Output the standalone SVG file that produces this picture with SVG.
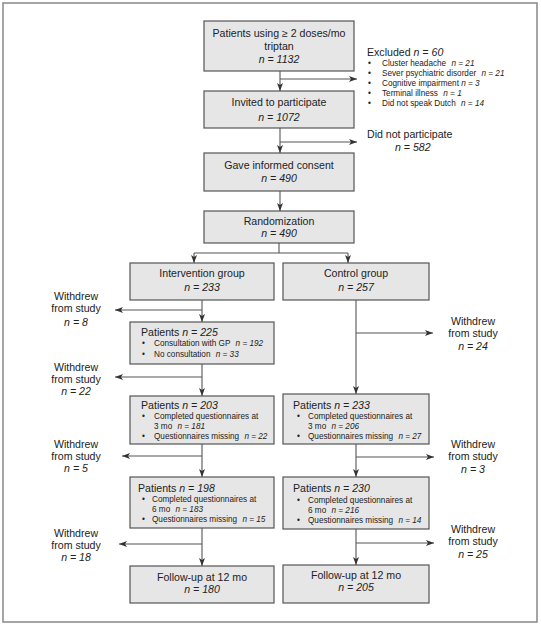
<svg xmlns="http://www.w3.org/2000/svg" width="541" height="626" viewBox="0 0 541 626">
<style>
text{font-family:"Liberation Sans",Arial,sans-serif;fill:#222;}
.t{font-size:10.6px;}
.c{text-anchor:middle;}
.s{font-size:8.2px;}
.i{font-style:italic;}
.box{fill:#e6e6e6;stroke:#555;stroke-width:1.2;}
.ln{fill:none;stroke:#555;stroke-width:1.1;}
</style>
<defs>
<marker id="ah" viewBox="0 0 8 6" refX="8" refY="3" markerWidth="8" markerHeight="6" markerUnits="userSpaceOnUse" orient="auto">
<path d="M0,0 L8,3 L0,6 L2,3 z" fill="#333"/>
</marker>
</defs>
<rect x="3" y="3" width="534" height="619" fill="#fff" stroke="#888" stroke-width="1.5"/>

<g id="connectors">
<path class="ln" d="M280,71 V91" marker-end="url(#ah)"/>
<path class="ln" d="M280,79 H357" marker-end="url(#ah)"/>
<path class="ln" d="M280,128 V153" marker-end="url(#ah)"/>
<path class="ln" d="M280,142 H357" marker-end="url(#ah)"/>
<path class="ln" d="M280,191 V211" marker-end="url(#ah)"/>
<path class="ln" d="M279,243 V253 M194,253 H348"/>
<path class="ln" d="M194,253 V263" marker-end="url(#ah)"/>
<path class="ln" d="M348,253 V263" marker-end="url(#ah)"/>
<path class="ln" d="M202,300 V322" marker-end="url(#ah)"/>
<path class="ln" d="M202,310 H115" marker-end="url(#ah)"/>
<path class="ln" d="M202,364 V396" marker-end="url(#ah)"/>
<path class="ln" d="M202,377 H115" marker-end="url(#ah)"/>
<path class="ln" d="M202,444 V477" marker-end="url(#ah)"/>
<path class="ln" d="M202,456 H122" marker-end="url(#ah)"/>
<path class="ln" d="M202,528 V566" marker-end="url(#ah)"/>
<path class="ln" d="M202,544 H119" marker-end="url(#ah)"/>
<path class="ln" d="M356,300 V394" marker-end="url(#ah)"/>
<path class="ln" d="M356,333 H433" marker-end="url(#ah)"/>
<path class="ln" d="M356,444 V477" marker-end="url(#ah)"/>
<path class="ln" d="M356,457 H434" marker-end="url(#ah)"/>
<path class="ln" d="M356,529 V565" marker-end="url(#ah)"/>
<path class="ln" d="M356,543 H434" marker-end="url(#ah)"/>
</g>

<g id="n-patients">
<rect class="box" x="204" y="21" width="150" height="50"/>
<text class="t c" x="279" y="37">Patients using ≥ 2 doses/mo</text>
<text class="t c" x="279" y="50">triptan</text>
<text class="t c i" x="279" y="63">n = 1132</text>
</g>
<g id="n-excluded">
<text class="t" x="367" y="56">Excluded <tspan class="i">n = 60</tspan></text>
<text class="s" x="368" y="66">•</text><text class="s" x="382" y="66">Cluster headache <tspan class="i" dx="3">n = 21</tspan></text>
<text class="s" x="368" y="76">•</text><text class="s" x="382" y="76">Sever psychiatric disorder <tspan class="i" dx="3">n = 21</tspan></text>
<text class="s" x="368" y="86">•</text><text class="s" x="382" y="86">Cognitive impairment <tspan class="i">n = 3</tspan></text>
<text class="s" x="368" y="96">•</text><text class="s" x="382" y="96">Terminal illness <tspan class="i" dx="3">n = 1</tspan></text>
<text class="s" x="368" y="106">•</text><text class="s" x="382" y="106">Did not speak Dutch <tspan class="i" dx="3">n = 14</tspan></text>
</g>
<g id="n-invited">
<rect class="box" x="204" y="91" width="150" height="37"/>
<text class="t c" x="279" y="106">Invited to participate</text>
<text class="t c i" x="279" y="121">n = 1072</text>
</g>
<g id="n-notpart">
<text class="t" x="367" y="138">Did not participate</text>
<text class="t i" x="395" y="151">n = 582</text>
</g>
<g id="n-consent">
<rect class="box" x="204" y="153" width="150" height="38"/>
<text class="t c" x="279" y="169">Gave informed consent</text>
<text class="t c i" x="279" y="182">n = 490</text>
</g>
<g id="n-random">
<rect class="box" x="204" y="211" width="150" height="32"/>
<text class="t c" x="279" y="225">Randomization</text>
<text class="t c i" x="279" y="237">n = 490</text>
</g>
<g id="n-interv">
<rect class="box" x="130" y="263" width="144" height="37"/>
<text class="t c" x="202" y="277">Intervention group</text>
<text class="t c i" x="202" y="291">n = 233</text>
</g>
<g id="n-control">
<rect class="box" x="283" y="263" width="146" height="37"/>
<text class="t c" x="356" y="277">Control group</text>
<text class="t c i" x="356" y="291">n = 257</text>
</g>

<g id="n-w8">
<text class="t c" x="76" y="300">Withdrew</text>
<text class="t c" x="76" y="312">from study</text>
<text class="t c i" x="76" y="326">n = 8</text>
</g>
<g id="n-w24">
<text class="t c" x="473" y="325">Withdrew</text>
<text class="t c" x="473" y="337">from study</text>
<text class="t c i" x="473" y="350">n = 24</text>
</g>
<g id="n-p225">
<rect class="box" x="130" y="322" width="144" height="42"/>
<text class="t" x="141" y="336">Patients <tspan class="i">n = 225</tspan></text>
<text class="s" x="142" y="346">•</text><text class="s" x="154" y="346">Consultation with GP <tspan class="i" dx="3">n = 192</tspan></text>
<text class="s" x="142" y="357">•</text><text class="s" x="154" y="357">No consultation <tspan class="i" dx="3">n = 33</tspan></text>
</g>
<g id="n-w22">
<text class="t c" x="76" y="371">Withdrew</text>
<text class="t c" x="76" y="383">from study</text>
<text class="t c i" x="76" y="395">n = 22</text>
</g>
<g id="n-p203">
<rect class="box" x="130" y="396" width="144" height="48"/>
<text class="t" x="141" y="409">Patients <tspan class="i">n = 203</tspan></text>
<text class="s" x="142" y="419">•</text><text class="s" x="154" y="419">Completed questionnaires at</text>
<text class="s" x="154" y="429">3 mo <tspan class="i" dx="3">n = 181</tspan></text>
<text class="s" x="142" y="439">•</text><text class="s" x="154" y="439">Questionnaires missing <tspan class="i" dx="3">n = 22</tspan></text>
</g>
<g id="n-p233">
<rect class="box" x="283" y="394" width="146" height="50"/>
<text class="t" x="293" y="409">Patients <tspan class="i">n = 233</tspan></text>
<text class="s" x="297" y="419">•</text><text class="s" x="308" y="419">Completed questionnaires at</text>
<text class="s" x="308" y="429">3 mo <tspan class="i" dx="3">n = 206</tspan></text>
<text class="s" x="297" y="439">•</text><text class="s" x="308" y="439">Questionnaires missing <tspan class="i" dx="3">n = 27</tspan></text>
</g>
<g id="n-w5">
<text class="t c" x="76" y="448">Withdrew</text>
<text class="t c" x="76" y="460">from study</text>
<text class="t c i" x="76" y="472">n = 5</text>
</g>
<g id="n-w3">
<text class="t c" x="473" y="448">Withdrew</text>
<text class="t c" x="473" y="460">from study</text>
<text class="t c i" x="473" y="473">n = 3</text>
</g>
<g id="n-p198">
<rect class="box" x="130" y="477" width="144" height="51"/>
<text class="t" x="138" y="492">Patients <tspan class="i">n = 198</tspan></text>
<text class="s" x="142" y="502">•</text><text class="s" x="152" y="502">Completed questionnaires at</text>
<text class="s" x="152" y="512">6 mo <tspan class="i" dx="3">n = 183</tspan></text>
<text class="s" x="142" y="522">•</text><text class="s" x="152" y="522">Questionnaires missing <tspan class="i" dx="3">n = 15</tspan></text>
</g>
<g id="n-p230">
<rect class="box" x="283" y="477" width="146" height="52"/>
<text class="t" x="293" y="492">Patients <tspan class="i">n = 230</tspan></text>
<text class="s" x="297" y="503">•</text><text class="s" x="308" y="503">Completed questionnaires at</text>
<text class="s" x="308" y="513">6 mo <tspan class="i" dx="3">n = 216</tspan></text>
<text class="s" x="297" y="523">•</text><text class="s" x="308" y="523">Questionnaires missing <tspan class="i" dx="3">n = 14</tspan></text>
</g>
<g id="n-w18">
<text class="t c" x="76" y="537">Withdrew</text>
<text class="t c" x="76" y="549">from study</text>
<text class="t c i" x="76" y="561">n = 18</text>
</g>
<g id="n-w25">
<text class="t c" x="473" y="533">Withdrew</text>
<text class="t c" x="473" y="545">from study</text>
<text class="t c i" x="473" y="558">n = 25</text>
</g>
<g id="n-fu1">
<rect class="box" x="130" y="566" width="144" height="37"/>
<text class="t c" x="202" y="581">Follow-up at 12 mo</text>
<text class="t c i" x="202" y="593">n = 180</text>
</g>
<g id="n-fu2">
<rect class="box" x="283" y="565" width="146" height="38"/>
<text class="t c" x="356" y="579">Follow-up at 12 mo</text>
<text class="t c i" x="356" y="591">n = 205</text>
</g>
</svg>
